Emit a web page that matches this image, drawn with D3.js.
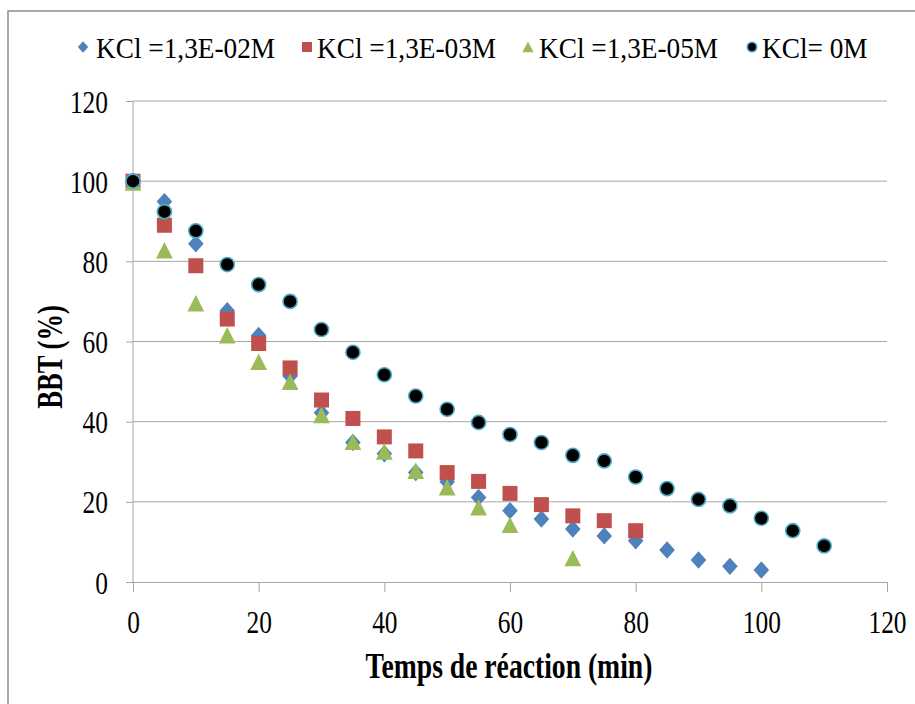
<!DOCTYPE html>
<html lang="fr">
<head>
    <meta charset="UTF-8">
    <title>BBT (%) en fonction du temps de réaction</title>
    <script src="https://d3js.org/d3.v7.min.js"></script>
    <style>
        body { margin: 0; background: #fff; }
        svg { display: block; }
        text { font-family: "Liberation Serif", "Times New Roman", serif; fill: #000; }
        .grid line { stroke: #a6a6a6; stroke-width: 1px; }
        .axis path, .axis line { stroke: #a6a6a6; }
    </style>
</head>
<body>
<div id="chart"></div>
<script>
    // data
    const seriesNames = ["KCl =1,3E-02M", "KCl =1,3E-03M", "KCl =1,3E-05M", "KCl= 0M"];

    const timeBlue = [0, 5, 10, 15, 20, 25, 30, 35, 40, 45, 50, 55, 60, 65, 70, 75, 80, 85, 90, 95, 100];
    const bbtBlue = [100, 94.9, 84.4, 67.7, 61.5, 51.4, 42.2, 34.8, 32, 27.3, 25, 21.1, 17.8, 15.7, 13.2, 11.5, 10.3, 8.0, 5.5, 3.9, 3.0];

    const timeRed = [0, 5, 10, 15, 20, 25, 30, 35, 40, 45, 50, 55, 60, 65, 70, 75, 80];
    const bbtRed = [100, 89.0, 78.9, 65.6, 59.5, 53.4, 45.4, 40.8, 36.2, 32.7, 27.3, 25.1, 22.1, 19.3, 16.5, 15.3, 12.8];

    const timeGreen = [0, 5, 10, 15, 20, 25, 30, 35, 40, 45, 50, 55, 60, 70];
    const bbtGreen = [99.6, 82.7, 69.5, 61.5, 54.9, 49.9, 41.6, 34.9, 32.5, 27.7, 23.6, 18.6, 14.2, 5.9];

    const timeBlack = [0, 5, 10, 15, 20, 25, 30, 35, 40, 45, 50, 55, 60, 65, 70, 75, 80, 85, 90, 95, 100, 105, 110];
    const bbtBlack = [100, 92.4, 87.6, 79.2, 74.2, 70, 63, 57.3, 51.7, 46.4, 43.1, 39.8, 36.8, 34.8, 31.6, 30.2, 26.2, 23.3, 20.6, 19.0, 15.9, 12.8, 9.0];

    const xTicks = [0, 20, 40, 60, 80, 100, 120];
    const yTicks = [0, 20, 40, 60, 80, 100, 120];

    const width = 915, height = 704;
    const margin = {top: 101, right: 28, bottom: 122, left: 133};
    const plotW = width - margin.left - margin.right;
    const plotH = height - margin.top - margin.bottom;

    const svg = d3.select("#chart").append("svg")
        .attr("width", width)
        .attr("height", height);

    // outer chart frame (runs off the right and bottom)
    svg.append("rect")
        .attr("x", 8).attr("y", 11)
        .attr("width", 1000).attr("height", 1000)
        .attr("fill", "none")
        .attr("stroke", "#8c8c8c")
        .attr("stroke-width", 1.5);

    const x = d3.scaleLinear().domain([0, 120]).range([0, plotW]);
    const y = d3.scaleLinear().domain([0, 120]).range([plotH, 0]);

    const g = svg.append("g").attr("transform", `translate(${margin.left},${margin.top})`);

    // horizontal gridlines
    g.append("g").attr("class", "grid")
        .selectAll("line")
        .data(yTicks.filter(d => d > 0))
        .join("line")
        .attr("x1", 0).attr("x2", plotW)
        .attr("y1", d => y(d)).attr("y2", d => y(d));

    const squeeze = 0.82;

    const xAxis = g.append("g").attr("class", "axis")
        .attr("transform", `translate(0,${plotH})`)
        .call(d3.axisBottom(x).tickValues(xTicks).tickSize(10).tickSizeOuter(0).tickPadding(0));
    xAxis.selectAll("text")
        .attr("y", 0).attr("dy", 0)
        .attr("transform", `translate(0,51) scale(${squeeze},1)`)
        .style("font-size", "31px");

    const yAxis = g.append("g").attr("class", "axis")
        .call(d3.axisLeft(y).tickValues(yTicks).tickSize(7).tickSizeOuter(0).tickPadding(0));
    yAxis.selectAll("text")
        .attr("x", 0).attr("dy", 0)
        .attr("transform", `translate(-25,11) scale(${squeeze},1)`)
        .style("font-size", "31px");
    yAxis.select(".domain").attr("d", `M0,${plotH}V0`);

    // axis titles
    svg.append("text")
        .attr("text-anchor", "middle")
        .attr("transform", `translate(${margin.left + plotW / 2 - 1},678) scale(0.79,1)`)
        .style("font-size", "35px")
        .style("font-weight", "bold")
        .text("Temps de réaction (min)");

    svg.append("text")
        .attr("text-anchor", "middle")
        .attr("transform", `translate(62,357) rotate(-90) scale(0.76,1)`)
        .style("font-size", "35px")
        .style("font-weight", "bold")
        .text("BBT (%)");

    // markers
    const series = [
        {name: seriesNames[0], xs: timeBlue, ys: bbtBlue, color: "#4f81bd", shape: "diamond"},
        {name: seriesNames[1], xs: timeRed, ys: bbtRed, color: "#c0504d", shape: "square"},
        {name: seriesNames[2], xs: timeGreen, ys: bbtGreen, color: "#9bbb59", shape: "triangle"},
        {name: seriesNames[3], xs: timeBlack, ys: bbtBlack, color: "#000000", shape: "circle"}
    ];

    function drawMarker(sel, shape, color, size) {
        if (shape === "circle") {
            sel.append("circle")
                .attr("r", size * 0.47)
                .attr("fill", color)
                .attr("stroke", "#4bacc6")
                .attr("stroke-width", 1.6);
        } else if (shape === "square") {
            sel.append("rect")
                .attr("x", -size / 2).attr("y", -size / 2)
                .attr("width", size).attr("height", size)
                .attr("fill", color);
        } else if (shape === "diamond") {
            const w = size * 0.52, h = size * 0.58;
            sel.append("path")
                .attr("d", `M0,${-h}L${w},0L0,${h}L${-w},0Z`)
                .attr("fill", color);
        } else {
            const h = size * 0.56;
            sel.append("path")
                .attr("d", `M0,${-h}L${h},${h * 0.95}L${-h},${h * 0.95}Z`)
                .attr("fill", color);
        }
    }

    series.forEach(s => {
        const pts = s.xs.map((t, i) => ({t: t, v: s.ys[i]}));
        g.append("g")
            .selectAll("g")
            .data(pts)
            .join("g")
            .attr("transform", d => `translate(${x(d.t)},${y(d.v)})`)
            .each(function() { drawMarker(d3.select(this), s.shape, s.color, 15); });
    });

    // legend
    const legendX = [83, 307, 528, 752];
    const legendGap = [13, 10, 11, 10];
    const legend = svg.append("g");
    series.forEach((s, i) => {
        const item = legend.append("g").attr("transform", `translate(${legendX[i]},47)`);
        drawMarker(item, s.shape, s.color, s.shape === "circle" ? 10 : 10);
        item.append("text")
            .attr("transform", `translate(${legendGap[i]},11) scale(0.91,1)`)
            .style("font-size", "30px")
            .text(s.name);
    });
</script>
</body>
</html>
